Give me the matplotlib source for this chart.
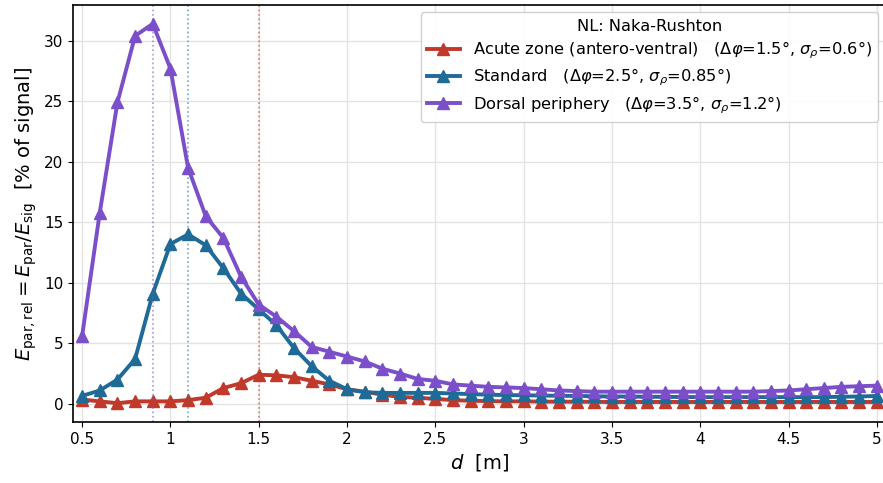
import numpy as np
import matplotlib
matplotlib.use("Agg")
import matplotlib.pyplot as plt

# =========================================
# DATA
# =========================================
d = np.round(np.arange(0.5, 5.01, 0.1), 2)

acute = [0.35, 0.2, 0.05, 0.2, 0.2, 0.2, 0.3, 0.5, 1.3, 1.7,
         2.4, 2.35, 2.2, 1.9, 1.6, 1.2, 1.0, 0.75, 0.57, 0.5,
         0.4, 0.3, 0.25, 0.22, 0.2, 0.2, 0.18, 0.17, 0.17, 0.16,
         0.15, 0.15, 0.15, 0.15, 0.15, 0.15, 0.15, 0.15, 0.15, 0.15,
         0.15, 0.15, 0.15, 0.15, 0.15, 0.15]

standard = [0.65, 1.1, 2.0, 3.7, 9.1, 13.2, 14.0, 13.1, 11.2, 9.1,
            7.8, 6.5, 4.6, 3.1, 1.9, 1.2, 0.95, 0.9, 0.9, 0.9,
            0.9, 0.85, 0.8, 0.75, 0.72, 0.7, 0.68, 0.66, 0.65, 0.62,
            0.6, 0.6, 0.58, 0.57, 0.56, 0.55, 0.55, 0.55, 0.55, 0.55,
            0.55, 0.55, 0.55, 0.58, 0.6, 0.65]

dorsal = [5.6, 15.8, 24.9, 30.4, 31.4, 27.7, 19.5, 15.5, 13.7, 10.5,
          8.2, 7.2, 6.0, 4.7, 4.3, 3.9, 3.5, 2.9, 2.5, 2.05,
          1.9, 1.6, 1.5, 1.4, 1.35, 1.3, 1.2, 1.1, 1.05, 1.0,
          1.0, 1.0, 1.0, 1.0, 1.0, 1.0, 1.0, 1.0, 1.0, 1.05,
          1.1, 1.2, 1.3, 1.4, 1.45, 1.5]

peaks = [1.5, 1.1, 0.9]

labels = [
    r"Acute zone (antero-ventral)   ($\Delta\varphi$=1.5°, $\sigma_\rho$=0.6°)",
    r"Standard   ($\Delta\varphi$=2.5°, $\sigma_\rho$=0.85°)",
    r"Dorsal periphery   ($\Delta\varphi$=3.5°, $\sigma_\rho$=1.2°)",
]
colors = ["#c0392b", "#1f6b98", "#7b4fc9"]

# =========================================
# PLOT
# =========================================
fig, ax = plt.subplots(figsize=(8.83, 4.83), dpi=100)
# right spine sits just past the image edge, as in the cropped original
fig.subplots_adjust(left=0.083, right=1.003, top=0.99, bottom=0.126)

for ys, lab, c, pk in zip([acute, standard, dorsal], labels, colors, peaks):
    ax.plot(d, ys, color=c, lw=2.8, marker="^", ms=8, label=lab)
    ax.axvline(pk, color=c, ls=":", lw=1.2, alpha=0.6)

ax.set_xlim(0.45, 5.05)
ax.set_xticks([0.5, 1, 1.5, 2, 2.5, 3, 3.5, 4, 4.5, 5])
ax.set_xticklabels(["0.5", "1", "1.5", "2", "2.5", "3", "3.5", "4", "4.5", "5"])
ax.tick_params(labelsize=11)

ax.set_xlabel(r"$d$  [m]", fontsize=14)
ax.set_ylabel(r"$E_{\mathrm{par,rel}} = E_{\mathrm{par}}/E_{\mathrm{sig}}$  [% of signal]",
              fontsize=14)

ax.grid(True, color="#e3e3e3", lw=1.0)
ax.set_axisbelow(True)
for spine in ax.spines.values():
    spine.set_linewidth(1.2)

ax.legend(title="NL: Naka-Rushton", loc="upper right", fontsize=11.7,
          title_fontsize=11.7, framealpha=0.9, labelspacing=0.35,
          borderaxespad=0.45)

plt.savefig("out.png", dpi=100)
plt.close()
